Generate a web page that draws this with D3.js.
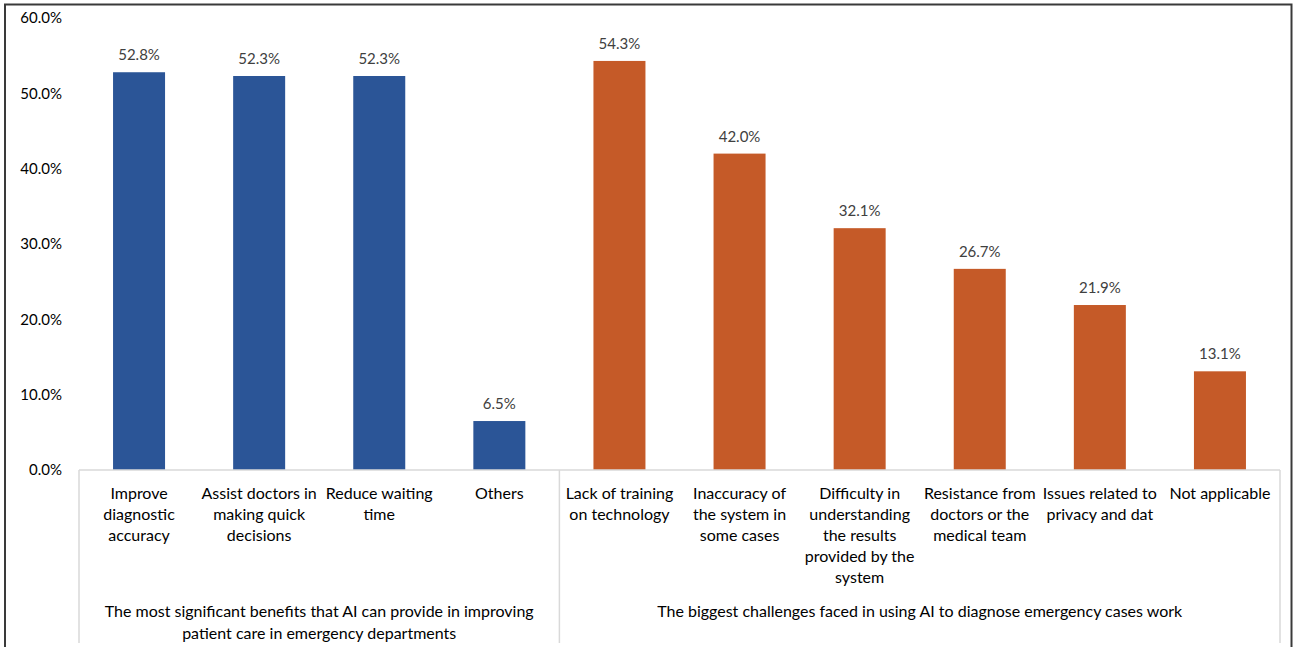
<!DOCTYPE html>
<html>
<head>
<meta charset="utf-8">
<script src="https://cdn.jsdelivr.net/npm/d3@7"></script>
<style>
  html, body { margin: 0; padding: 0; background: #fff; }
  svg { display: block; }
  text { font-family: "Lato", "Open Sans", sans-serif; }
</style>
</head>
<body>
<svg id="chart" width="1293" height="647"></svg>
<script>
// Survey responses (share of respondents)
const categories = [
  "Improve diagnostic accuracy",
  "Assist doctors in making quick decisions",
  "Reduce waiting time",
  "Others",
  "Lack of training on technology",
  "Inaccuracy of the system in some cases",
  "Difficulty in understanding the results provided by the system",
  "Resistance from doctors or the medical team",
  "Issues related to privacy and dat",
  "Not applicable"
];
const categoryLines = [
  ["Improve", "diagnostic", "accuracy"],
  ["Assist doctors in", "making quick", "decisions"],
  ["Reduce waiting", "time"],
  ["Others"],
  ["Lack of training", "on technology"],
  ["Inaccuracy of", "the system in", "some cases"],
  ["Difficulty in", "understanding", "the results", "provided by the", "system"],
  ["Resistance from", "doctors or the", "medical team"],
  ["Issues related to", "privacy and dat"],
  ["Not applicable"]
];
const values = [0.528, 0.523, 0.523, 0.065, 0.543, 0.420, 0.321, 0.267, 0.219, 0.131];
const groupOf = [0, 0, 0, 0, 1, 1, 1, 1, 1, 1];
const groupNames = [
  ["The most significant benefits that AI can provide in improving", "patient care in emergency departments"],
  ["The biggest challenges faced in using AI to diagnose emergency cases work"]
];
const groupColors = ["#2B5597", "#C55A28"];
const yTicks = [0, 0.1, 0.2, 0.3, 0.4, 0.5, 0.6];

const svg = d3.select("#chart");

// outer frame (bottom edge runs off the canvas)
svg.append("rect")
  .attr("x", 5).attr("y", 4.5)
  .attr("width", 1286.5).attr("height", 700)
  .attr("fill", "none").attr("stroke", "#3a3a3a").attr("stroke-width", 2);

const plotLeft = 79, plotRight = 1280, plotTop = 18, base = 470, plotBottom = 643;

const x = d3.scaleBand()
  .domain(categories)
  .range([plotLeft, plotRight])
  .paddingInner(0.567)
  .paddingOuter(0.2835);

const y = d3.scaleLinear().domain([0, 0.6]).range([base, plotTop]);

// y axis: labels only
const yAxis = svg.append("g")
  .attr("transform", "translate(62,0)")
  .call(d3.axisLeft(y).tickValues(yTicks).tickFormat(d3.format(".1%")).tickSize(0).tickPadding(0));
yAxis.select(".domain").remove();
yAxis.selectAll("text")
  .attr("font-size", 15)
  .attr("fill", "#000")
  .style("font-family", "Lato, 'Open Sans', sans-serif");

// bars
svg.append("g").selectAll("rect")
  .data(categories)
  .join("rect")
  .attr("x", d => x(d))
  .attr("width", x.bandwidth())
  .attr("y", (d, i) => y(values[i]))
  .attr("height", (d, i) => base - y(values[i]))
  .attr("fill", (d, i) => groupColors[groupOf[i]]);

// value labels
svg.append("g").selectAll("text")
  .data(categories)
  .join("text")
  .attr("x", d => x(d) + x.bandwidth() / 2)
  .attr("y", (d, i) => y(values[i]) - 12)
  .attr("text-anchor", "middle")
  .attr("font-size", 15)
  .attr("fill", "#404040")
  .text((d, i) => d3.format(".1%")(values[i]));

// category axis line and group dividers
const axisG = svg.append("g").attr("stroke", "#d9d9d9").attr("stroke-width", 1.5);
axisG.append("line")
  .attr("x1", plotLeft).attr("x2", plotRight)
  .attr("y1", base).attr("y2", base);
const dividers = [plotLeft, x(categories[4]) - x.step() * x.paddingInner() / 2, plotRight];
axisG.selectAll("line.div")
  .data(dividers)
  .join("line")
  .attr("class", "div")
  .attr("x1", d => d).attr("x2", d => d)
  .attr("y1", base).attr("y2", plotBottom);

// category labels
const catG = svg.append("g");
categories.forEach((c, i) => {
  const cx = x(c) + x.bandwidth() / 2;
  const t = catG.append("text")
    .attr("x", cx)
    .attr("y", 498.5)
    .attr("text-anchor", "middle")
    .attr("font-size", 16)
    .attr("fill", "#000");
  categoryLines[i].forEach((line, j) => {
    t.append("tspan")
      .attr("x", cx)
      .attr("dy", j === 0 ? 0 : 21)
      .text(line);
  });
});

// group labels
const groupSpans = [[dividers[0], dividers[1]], [dividers[1], dividers[2]]];
groupNames.forEach((lines, g) => {
  const cx = (groupSpans[g][0] + groupSpans[g][1]) / 2;
  const t = svg.append("text")
    .attr("x", cx).attr("y", 616.5)
    .attr("text-anchor", "middle")
    .attr("font-size", 16)
    .attr("fill", "#000");
  lines.forEach((line, j) => {
    t.append("tspan").attr("x", cx).attr("dy", j === 0 ? 0 : 22).text(line);
  });
});
</script>
</body>
</html>
